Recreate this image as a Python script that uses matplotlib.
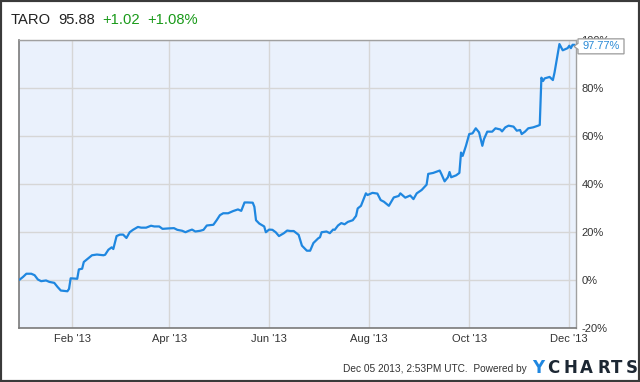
import numpy as np
import matplotlib
matplotlib.use('Agg')
import matplotlib.pyplot as plt
import matplotlib.dates as mdates
from matplotlib.patches import Rectangle, Polygon

plt.rcParams['font.family'] = ['Liberation Sans', 'DejaVu Sans']

# TARO price change since start of 2013 (%)
dates = ['2012-12-31', '2013-01-02', '2013-01-04', '2013-01-07', '2013-01-09', '2013-01-11',
         '2013-01-13', '2013-01-16', '2013-01-18', '2013-01-21', '2013-01-23', '2013-01-25',
         '2013-01-29', '2013-01-30', '2013-01-31', '2013-02-04', '2013-02-05', '2013-02-07',
         '2013-02-08', '2013-02-11', '2013-02-13', '2013-02-16', '2013-02-20', '2013-02-21',
         '2013-02-23', '2013-02-25', '2013-02-26', '2013-02-28', '2013-03-02', '2013-03-04',
         '2013-03-06', '2013-03-08', '2013-03-10', '2013-03-13', '2013-03-15', '2013-03-18',
         '2013-03-21', '2013-03-23', '2013-03-26', '2013-03-28', '2013-04-01', '2013-04-04',
         '2013-04-06', '2013-04-09', '2013-04-11', '2013-04-13', '2013-04-15', '2013-04-17',
         '2013-04-20', '2013-04-22', '2013-04-24', '2013-04-28', '2013-04-30', '2013-05-02',
         '2013-05-04', '2013-05-07', '2013-05-10', '2013-05-13', '2013-05-15', '2013-05-17',
         '2013-05-19', '2013-05-22', '2013-05-23', '2013-05-24', '2013-05-26', '2013-05-29',
         '2013-05-30', '2013-06-01', '2013-06-03', '2013-06-05', '2013-06-07', '2013-06-10',
         '2013-06-12', '2013-06-14', '2013-06-16', '2013-06-19', '2013-06-21', '2013-06-24',
         '2013-06-26', '2013-06-28', '2013-07-01', '2013-07-02', '2013-07-03', '2013-07-06',
         '2013-07-08', '2013-07-10', '2013-07-11', '2013-07-13', '2013-07-15', '2013-07-17',
         '2013-07-19', '2013-07-22', '2013-07-24', '2013-07-25', '2013-07-27', '2013-07-30',
         '2013-07-31', '2013-08-03', '2013-08-06', '2013-08-08', '2013-08-10', '2013-08-13',
         '2013-08-16', '2013-08-19', '2013-08-20', '2013-08-23', '2013-08-26', '2013-08-28',
         '2013-08-30', '2013-09-02', '2013-09-05', '2013-09-06', '2013-09-09', '2013-09-13',
         '2013-09-14', '2013-09-16', '2013-09-18', '2013-09-19', '2013-09-20', '2013-09-23',
         '2013-09-25', '2013-09-26', '2013-09-27', '2013-09-29', '2013-10-01', '2013-10-03',
         '2013-10-05', '2013-10-07', '2013-10-09', '2013-10-10', '2013-10-12', '2013-10-15',
         '2013-10-16', '2013-10-17', '2013-10-20', '2013-10-21', '2013-10-23', '2013-10-25',
         '2013-10-28', '2013-10-30', '2013-11-01', '2013-11-02', '2013-11-04', '2013-11-06',
         '2013-11-09', '2013-11-12', '2013-11-13', '2013-11-14', '2013-11-15', '2013-11-16',
         '2013-11-19', '2013-11-21', '2013-11-22', '2013-11-25', '2013-11-27', '2013-11-30',
         '2013-12-01', '2013-12-02', '2013-12-03', '2013-12-04']
pct = [0.0, 1.1, 2.4, 2.4, 1.8, 0.0,
       -0.7, -0.4, -1.0, -1.4, -3.1, -4.6,
       -4.9, -3.9, 0.5, 0.3, 4.2, 4.5,
       7.3, 9.0, 10.1, 10.4, 10.1, 10.3,
       12.4, 13.4, 12.7, 18.1, 18.7, 18.7,
       17.3, 19.7, 20.7, 21.9, 21.6, 21.6,
       22.4, 22.1, 22.1, 21.1, 21.3, 21.4,
       20.7, 20.3, 19.7, 20.3, 20.8, 20.0,
       20.3, 20.7, 22.5, 22.8, 24.7, 26.8,
       27.6, 27.6, 28.5, 29.2, 28.6, 32.1,
       32.1, 32.0, 30.3, 24.7, 23.3, 22.1,
       19.7, 20.8, 20.7, 19.7, 18.1, 19.3,
       20.4, 20.2, 20.2, 18.6, 14.1, 12.0,
       12.0, 15.2, 17.2, 17.6, 19.7, 20.0,
       19.3, 20.8, 20.7, 22.5, 23.5, 23.0,
       24.0, 24.7, 26.5, 29.6, 30.7, 35.9,
       35.2, 36.1, 35.8, 33.1, 32.4, 30.7,
       34.2, 34.8, 35.9, 34.1, 35.0, 33.5,
       35.9, 37.3, 39.5, 44.0, 44.4, 45.4,
       44.0, 40.9, 42.6, 44.8, 42.6, 43.4,
       44.4, 52.9, 51.5, 55.7, 60.6, 60.9,
       63.0, 61.3, 55.7, 58.5, 61.6, 61.6,
       62.3, 63.0, 62.5, 61.7, 63.4, 64.1,
       63.7, 62.0, 62.3, 60.6, 61.6, 63.0,
       63.4, 64.1, 64.4, 84.1, 82.7, 83.8,
       84.4, 83.1, 86.2, 98.1, 95.5, 96.4,
       97.4, 96.4, 97.8, 97.77]

ticker = 'TARO'
price = '95.88'
change = '+1.02'
change_pct = '+1.08%'
last_label = '97.77%'
y_ticks = [-20, 0, 20, 40, 60, 80, 100]
footer = 'Dec 05 2013, 2:53PM UTC.  Powered by'

x = np.array(dates, dtype='datetime64[D]')

W, H = 640, 382
fig = plt.figure(figsize=(6.4, 3.82), dpi=100)
fig.patch.set_facecolor('white')
ax = fig.add_axes([19 / W, 1 - 327.5 / H, (575.7 - 19) / W, (327.5 - 39.5) / H])
ax.set_facecolor('#eaf1fc')

ax.plot(x, pct, color='#1f87e0', linewidth=1.6, zorder=3)

ax.set_xlim(np.datetime64('2012-12-30T12:00'), np.datetime64('2013-12-04T22:00'))
ax.set_ylim(-20, 100)

ax.xaxis.set_major_locator(mdates.MonthLocator(bymonth=[2, 4, 6, 8, 10, 12]))
ax.xaxis.set_major_formatter(mdates.DateFormatter("%b '%y"))
ax.set_yticks(y_ticks)
ax.set_yticklabels([f'{v}%' for v in y_ticks])
ax.yaxis.tick_right()
ax.tick_params(axis='both', length=0, labelsize=8, labelcolor='#333333')
ax.tick_params(axis='y', pad=4)
ax.tick_params(axis='x', pad=5)
ax.grid(True, color='#d6d6d6', linewidth=1.0)
ax.set_axisbelow(True)
for side in ['left', 'bottom']:
    ax.spines[side].set_color('#7a7a7a')
    ax.spines[side].set_linewidth(1.2)
for side in ['top', 'right']:
    ax.spines[side].set_color('#a0a0a0')
    ax.spines[side].set_linewidth(1.0)

# header
title_parts = [(ticker, 11, '#222222'), (price, 58, '#222222'),
               (change, 102, '#1a9a1a'), (change_pct, 147, '#1a9a1a')]
for txt, px, col in title_parts:
    fig.text(px / W, 1 - 20.5 / H, txt, color=col, fontsize=10.6, ha='left', va='center')

# last value label with left pointer
fig.canvas.draw()
xe, ye = ax.transData.transform((mdates.date2num(x[-1]), pct[-1]))
bx0, bx1 = 578, 624
ye_px = H - ye + 1.5
box = [(bx0, ye_px - 7.5), (bx1, ye_px - 7.5), (bx1, ye_px + 7.5), (bx0, ye_px + 7.5),
       (bx0, ye_px + 3), (bx0 - 4, ye_px), (bx0, ye_px - 3)]
poly = Polygon([(px / W, 1 - py / H) for px, py in box], closed=True,
               transform=fig.transFigure, facecolor='white', edgecolor='#9a9a9a',
               linewidth=0.9, zorder=5)
fig.add_artist(poly)
fig.text((bx0 + bx1) / 2 / W, 1 - ye_px / H, last_label, color='#2a8ad6', fontsize=8,
         ha='center', va='center', zorder=6)

# footer
fig.text(527 / W, 1 - 369 / H, footer, color='#333333', fontsize=7.3, ha='right', va='center')
logo = [('Y', 538, '#1f87e0'), ('C', 553.5, '#1c2733'), ('H', 570, '#1c2733'),
        ('A', 586, '#1c2733'), ('R', 603.5, '#1c2733'), ('T', 617, '#1c2733'),
        ('S', 632, '#1c2733')]
for ch, px, col in logo:
    fig.text(px / W, 1 - 368 / H, ch, color=col, fontsize=12, fontweight='bold',
             family='DejaVu Sans', ha='center', va='center')

# outer frame
fig.add_artist(Rectangle((0, 0), 1, 1, transform=fig.transFigure, fill=False,
                         edgecolor='#3a3a3a', linewidth=3))

fig.savefig('out.png', dpi=100)
